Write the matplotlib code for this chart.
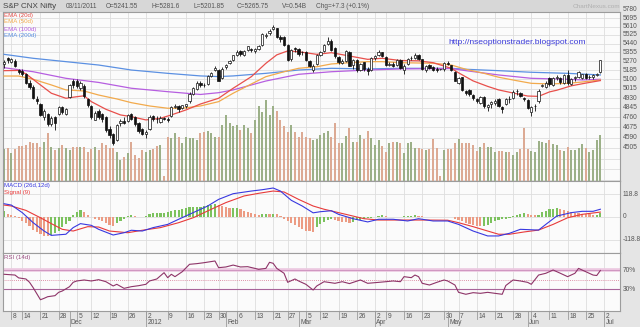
import numpy as np
import matplotlib
matplotlib.use('Agg')
import matplotlib.pyplot as plt
from matplotlib.patches import Rectangle
from matplotlib.lines import Line2D
from matplotlib.ticker import NullLocator
from matplotlib.transforms import blended_transform_factory as blend

plt.rcParams['font.family'] = ['Liberation Sans', 'DejaVu Sans']

# ---------------- data ----------------
# one entry per trading day, 03 Nov 2011 .. 29 Jun 2012
opens = [5241.55, 5300, 5262, 5270, 5185, 5175, 5150, 5070, 5030, 4920,
         4880, 4760, 4790, 4700, 4760, 4790, 4850, 4790, 4936, 5080,
         5080, 5020, 5040, 4920, 4860, 4740, 4815, 4790, 4760, 4665,
         4620, 4570, 4710, 4730, 4730, 4790, 4760, 4715, 4660, 4620,
         4660, 4775, 4750, 4720, 4754,
         4750, 4770, 4855, 4860, 4840, 4860, 4900, 4970, 5010, 5070,
         5050, 5060, 5130, 5190, 5190, 5110, 5210, 5250, 5280, 5330,
         5370, 5330, 5380, 5390, 5370, 5390, 5430, 5510, 5540, 5580,
         5590, 5500, 5500, 5430, 5290, 5400, 5390, 5360, 5360, 5270,
         5190, 5240, 5330, 5370, 5440, 5470, 5400, 5310, 5250, 5270,
         5360, 5230, 5280, 5190, 5260, 5200, 5190, 5300, 5330, 5355,
         5310, 5230, 5240, 5230, 5280, 5190, 5240, 5300, 5300, 5330,
         5290, 5190, 5230, 5210, 5200, 5195,
         5195, 5250, 5230, 5170, 5070, 5120, 4990, 5000, 4960, 4920,
         4890, 4940, 4850, 4880, 4890, 4920, 4850, 4880, 4925, 4930,
         4990, 4975, 4930, 4915, 4810, 4860, 4900, 5040, 5030, 5110,
         5050, 5110, 5110, 5070, 5140, 5060, 5110, 5120, 5110, 5150,
         5120, 5120, 5140, 5170]
highs = [5281.6, 5310, 5300, 5290, 5200, 5200, 5160, 5090, 5050, 4950,
         4890, 4830, 4800, 4770, 4770, 4860, 4860, 4840, 5060, 5100,
         5100, 5080, 5060, 4930, 4870, 4820, 4830, 4800, 4770, 4690,
         4630, 4700, 4750, 4760, 4790, 4800, 4770, 4720, 4670, 4650,
         4780, 4780, 4770, 4770, 4760,
         4760, 4860, 4880, 4870, 4870, 4880, 4980, 5030, 5080, 5080,
         5070, 5140, 5170, 5220, 5200, 5210, 5240, 5280, 5330, 5380,
         5380, 5380, 5420, 5400, 5400, 5430, 5540, 5540, 5580, 5630,
         5600, 5520, 5510, 5440, 5390, 5410, 5395, 5370, 5370, 5280,
         5240, 5340, 5370, 5440, 5500, 5480, 5410, 5320, 5290, 5380,
         5370, 5290, 5290, 5250, 5265, 5210, 5305, 5330, 5380, 5360,
         5315, 5260, 5260, 5290, 5290, 5240, 5300, 5320, 5345, 5335,
         5295, 5230, 5240, 5220, 5210, 5200,
         5260, 5270, 5235, 5175, 5120, 5125, 5000, 5010, 4970, 4930,
         4950, 4945, 4880, 4900, 4920, 4930, 4860, 4930, 4950, 5000,
         5010, 4985, 4940, 4920, 4860, 4880, 5010, 5060, 5080, 5120,
         5125, 5135, 5120, 5145, 5190, 5110, 5130, 5175, 5150, 5160,
         5135, 5150, 5160, 5285]
lows = [5201.85, 5250, 5250, 5210, 5150, 5130, 5060, 5010, 4920, 4880,
        4770, 4740, 4690, 4690, 4650, 4780, 4790, 4780, 4930, 5020,
        5020, 5000, 4930, 4850, 4750, 4740, 4750, 4720, 4640, 4590,
        4531, 4560, 4690, 4700, 4720, 4740, 4690, 4630, 4610, 4590,
        4650, 4730, 4710, 4710, 4740,
        4720, 4760, 4840, 4810, 4830, 4840, 4890, 4960, 5000, 5030,
        5030, 5050, 5120, 5180, 5080, 5100, 5200, 5240, 5270, 5320,
        5320, 5320, 5370, 5360, 5350, 5380, 5420, 5490, 5520, 5570,
        5490, 5460, 5420, 5270, 5270, 5360, 5320, 5330, 5270, 5210,
        5170, 5230, 5320, 5360, 5430, 5370, 5300, 5240, 5240, 5260,
        5220, 5200, 5170, 5180, 5180, 5140, 5180, 5280, 5320, 5310,
        5225, 5220, 5215, 5220, 5200, 5150, 5230, 5280, 5290, 5280,
        5190, 5170, 5195, 5180, 5170, 5185,
        5180, 5230, 5180, 5080, 5060, 4990, 4960, 4950, 4910, 4890,
        4880, 4840, 4820, 4840, 4870, 4850, 4800, 4870, 4890, 4920,
        4960, 4940, 4900, 4830, 4770, 4820, 4890, 5030, 5020, 5040,
        5040, 5090, 5060, 5060, 5050, 5050, 5080, 5110, 5100, 5100,
        5100, 5100, 5130, 5160]
closes = [5265.75, 5284, 5289, 5221, 5168, 5148, 5068, 5030, 4934, 4906,
          4778, 4812, 4706, 4756, 4710, 4851, 4805, 4832, 5051, 5050,
          5039, 5063, 4944, 4867, 4764, 4800, 4764, 4746, 4651, 4613,
          4544, 4693, 4733, 4714, 4779, 4750, 4705, 4646, 4624, 4636,
          4765, 4749, 4749, 4754, 4747,
          4742, 4849, 4860, 4831, 4866, 4873, 4967, 5018, 5064, 5048,
          5046, 5127, 5158, 5204, 5087, 5199, 5235, 5269, 5325, 5361,
          5335, 5368, 5412, 5381, 5390, 5416, 5531, 5521, 5564, 5607,
          5505, 5483, 5429, 5281, 5375, 5385, 5339, 5359, 5280, 5222,
          5220, 5333, 5359, 5429, 5465, 5380, 5317, 5257, 5274, 5364,
          5228, 5278, 5184, 5243, 5194, 5178, 5296, 5317, 5358, 5322,
          5234, 5243, 5226, 5276, 5207, 5226, 5289, 5300, 5332, 5290,
          5200, 5222, 5202, 5189, 5190, 5192,
          5248, 5239, 5188, 5087, 5114, 4999, 4974, 4965, 4928, 4907,
          4942, 4858, 4870, 4891, 4906, 4860, 4835, 4921, 4920, 4985,
          4990, 4951, 4924, 4841, 4848, 4863, 4997, 5049, 5068, 5054,
          5115, 5121, 5072, 5139, 5064, 5103, 5120, 5165, 5146, 5114,
          5121, 5141, 5149, 5279]
volumes = [.54, .56, .47, .54, .60, .60, .62, .67, .64, .64,
           .58, .67, .81, .58, .53, .56, .61, .56, .53, .58,
           .58, .58, .58, .50, .54, .58, .53, .64, .61, .56,
           .56, .50, .36, .41, .47, .67, .44, .39, .53, .50,
           .53, .55, .60, .62, .09, .75, .73, .81, .75, .64,
           .75, .74, .73, .70, .81, .84, .86, .81, .75, .75,
           .95, 1.12, .98, .93, .95, .87, .95, .90, .81, 1.04,
           1.27, 1.18, 1.38, 1.12, 1.27, 1.20, 1.04, .93, .84, .95,
           .84, .75, .84, .75, .73, .70, .72,
           .78, .82, .86, .75, .99, .65, .65, .77, .91, .67,
           .67, .78, .71, .86, .73, .61, .70, .60, .50, .64,
           .67, .67, .64, .47, .64, .67, .57, .56, .55, .53,
           .54, .71, .56, .09, .53, .54, .54, .64, .71, .65,
           .64, .64, .61, .51, .58, .64, .58, .58, .49, .51,
           .51, .50, .50, .44, .50, .54, .90, .54, .51, .50,
           .68, .66, .64, .70, .63, .61, .53, .51, .58, .53,
           .53, .56, .63, .56, .49, .53, .70, .78]

# moving averages (sampled day index, value)
ema20_x = [0, 4, 6, 10, 13, 17, 20, 22, 24, 28, 32, 35, 39, 43, 46, 50, 54, 59, 63, 68,
           72, 75, 78, 81, 86, 90, 95, 100, 104, 109, 114, 118, 123, 125, 129, 133, 136,
           140, 144, 147, 150, 152, 156, 160, 164]
ema20_y = [5180, 5182, 5150, 5048, 4973, 4928, 4942, 4950, 4898, 4831, 4782, 4767, 4739,
           4753, 4782, 4825, 4877, 4928, 5018, 5124, 5249, 5330, 5368, 5360, 5335, 5351,
           5319, 5287, 5297, 5276, 5273, 5255, 5202, 5160, 5085, 5035, 5003, 4975, 4948,
           4945, 4985, 5000, 5040, 5065, 5088]
ema50_x = [0, 4, 8, 13, 17, 22, 26, 31, 35, 40, 45, 49, 54, 59, 63, 68, 72, 77, 81, 86,
           90, 95, 100, 104, 109, 118, 123, 127, 132, 136, 141, 145, 150, 155, 159, 164]
ema50_y = [5130, 5130, 5100, 5048, 5003, 4993, 4957, 4922, 4889, 4860, 4840, 4840, 4860,
           4898, 4973, 5057, 5124, 5170, 5202, 5217, 5243, 5255, 5265, 5265, 5255, 5250,
           5233, 5193, 5155, 5119, 5087, 5063, 5057, 5063, 5075, 5094]
ema100_x = [0, 8, 17, 26, 35, 45, 54, 59, 63, 72, 81, 90, 100, 109, 123, 127, 136, 145,
            155, 159, 164]
ema100_y = [5208, 5170, 5109, 5071, 5018, 4987, 4962, 4978, 5003, 5084, 5146, 5170, 5186,
            5196, 5200, 5180, 5140, 5109, 5100, 5094, 5100]
ema200_x = [0, 8, 17, 26, 35, 45, 54, 59, 63, 72, 81, 90, 100, 109, 123, 127, 136, 145,
            155, 164]
ema200_y = [5335, 5297, 5265, 5233, 5186, 5155, 5131, 5125, 5131, 5155, 5186, 5202, 5196,
            5202, 5202, 5193, 5180, 5165, 5155, 5140]

macd_x = [0, 2, 5, 8, 11, 13, 17, 19, 21, 24, 26, 30, 33, 35, 38, 41, 45, 48, 52, 56,
          59, 63, 68, 71, 74, 76, 79, 82, 85, 87, 90, 92, 96, 100, 103, 107, 111, 114,
          118, 122, 125, 129, 133, 136, 139, 142, 147, 149, 152, 156, 159, 162, 164]
macd_y = [70, 63, 23, -30, -74, -97, -91, -56, -35, -44, -65, -95, -83, -70, -74, -56,
          -39, -12, 23, 58, 93, 123, 137, 144, 153, 137, 88, 58, 22, 28, 33, 14, -9, -26,
          -12, -12, -21, -9, -21, -21, -39, -74, -100, -100, -86, -65, -69, -39, 5, 23,
          30, 30, 41]
signal_x = [0, 2, 6, 10, 13, 16, 19, 23, 26, 29, 34, 38, 43, 48, 52, 57, 61, 66, 70, 74,
            77, 81, 85, 88, 90, 94, 99, 103, 110, 116, 122, 125, 129, 133, 136, 139, 143,
            147, 151, 155, 159, 164]
signal_y = [63, 58, 35, -4, -35, -65, -74, -51, -53, -74, -83, -70, -56, -30, -4, 41, 76,
            111, 125, 137, 132, 93, 58, 41, 32, 14, -9, -16, -16, -16, -17, -30, -51, -74,
            -91, -91, -79, -69, -39, -4, 14, 26]
macd_hist = [30, 18, 12, 7, -5, -19, -32, -49, -67, -79,
             -90, -99, -102, -97, -84, -72, -55, -37, -19, 12,
             26, 39, 26, 12, 2, -9, -16, -23, -32, -40,
             -48, -33, -19, -9, 5, 9, 5, 2, 0, 5,
             16, 19, 21, 21, 22, 25, 32, 37, 39, 42,
             48, 51, 53, 55, 55, 56, 62, 65, 69, 62,
             58, 53, 48, 48, 48, 44, 33, 26, 21, 18,
             12, 16, 18, 14, 18, 16, 5, -9, -19, -32,
             -44, -55, -63, -72, -76, -79, -55,
             -35, -25, -18, -10, -14, -21, -26, -28, -30, -24,
             -18, -14, -10, -7, -3, 2, 5, 9, 5, 2,
             0, -2, 2, 4, 5, 7, 9, 5, 3, 2,
             1, 2, 1, 0, 2, 1, -2, -9, -16, -23,
             -30, -37, -42, -46, -48, -46, -40, -32, -23, -16,
             -12, -9, -7, 5, 12, 18, 21, 16, 12, 9,
             12, 26, 33, 40, 44, 46, 44, 37, 30, 26,
             23, 21, 18, 16, 14, 12, 12, 21]

rsi_x = [0, 3, 4, 6, 7, 8, 10, 11, 12, 14, 15, 16, 18, 19, 20, 22, 24, 26, 28, 30, 31,
         33, 35, 37, 39, 40, 42, 44, 45, 46, 47, 49, 51, 53, 55, 58, 59, 61, 63, 65, 67,
         69, 70, 72, 73, 74, 75, 77, 78, 80, 81, 83, 85, 86, 88, 91, 93, 95, 96, 98, 100,
         103, 105, 107, 109, 110, 112, 113, 114, 115, 117, 119, 121, 122, 124, 125, 127,
         129, 131, 133, 135, 137, 138, 140, 142, 144, 145, 147, 149, 151, 153, 155, 157,
         158, 160, 162, 163, 164]
rsi_y = [61.6, 60, 54, 51.7, 44.7, 33.4, 8, 11, 14.4, 16.6, 23.6, 26.4, 35.5, 44.7, 47.5,
         49.6, 47.5, 50.3, 46, 37, 40.5, 32, 35.5, 37.6, 40.5, 47.5, 51.7, 65, 54.4, 61.6,
         56.6, 67, 82.6, 84, 86, 89.6, 75.5, 77, 81, 77, 77.6, 74, 72, 74, 86.8, 84.7, 74,
         63.7, 44.7, 51.7, 47.5, 40.5, 28.5, 37, 46, 42.6, 46, 42, 44.6, 49.6, 42.6, 44.6,
         46, 47.5, 46, 56.6, 54.5, 60, 56.6, 42.6, 39, 44.6, 49.6, 47.5, 39, 23.6, 19.5,
         22.9, 21.5, 23.6, 21.5, 19.5, 38, 49.6, 47.5, 44.6, 40.5, 60, 63.7, 70.6, 63.7,
         56.6, 63.7, 74, 67, 60, 59, 69.6]

price_ticks = [4505, 4590, 4675, 4760, 4845, 4930, 5015, 5100, 5185, 5270, 5355, 5440,
               5525, 5610, 5695, 5780]
price_grid_extra = [4250, 4335, 4420]
macd_ticks = [118.8, 0, -118.8]
macd_tick_labels = ['118.8', '0', '-118.8']
rsi_ticks = [70, 30]
rsi_tick_labels = ['70%', '30%']

day_ticks = [2, 5, 10, 15, 20, 24, 29, 34, 39, 45, 50, 55, 59, 64, 69, 74, 78, 83, 87,
             92, 97, 102, 105, 110, 115, 121, 125, 130, 135, 140, 145, 150, 155, 160, 165]
day_labels = ['8', '14', '21', '28', '5', '12', '19', '26', '2', '9', '16', '23', '30',
              '6', '13', '21', '27', '5', '12', '19', '26', '2', '9', '16', '23', '30', '7',
              '14', '21', '28', '4', '11', '18', '25', '2']
month_ticks = [18, 39, 61, 81, 102, 122, 144, 165]
month_labels = ['Dec', '2012', 'Feb', 'Mar', 'Apr', 'May', 'Jun', 'Jul']

# ---------------- figure ----------------
W, H = 640, 327
fig = plt.figure(figsize=(W / 100, H / 100), dpi=100)
fig.patch.set_facecolor('#e5e5e5')


def box(top, bottom, left=3, right=620):
    return [left / W, 1 - bottom / H, (right - left) / W, (bottom - top) / H]


def fy(py):
    return 1 - py / H


fig.add_artist(Rectangle((0, fy(12)), 620 / W, 12 / H, transform=fig.transFigure,
                         facecolor='#d7d7d7', edgecolor='none', zorder=0))

x = np.arange(len(closes))
o = np.array(opens)
c = np.array(closes)
up = c >= o

ax_v = fig.add_axes(box(12, 181))
ax_p = fig.add_axes(box(12, 181), sharex=ax_v)
ax_m = fig.add_axes(box(181, 253), sharex=ax_v)
ax_r = fig.add_axes(box(253, 311), sharex=ax_v)
ax_p.patch.set_alpha(0)

for a in (ax_v, ax_m, ax_r):
    a.set_facecolor('#fbfbfb')
    for s in a.spines.values():
        s.set_color('#9c9c9c')
        s.set_linewidth(0.8)
    for t in day_ticks:
        a.axvline(t, color='#dedede', lw=0.6, zorder=0)
for s in ax_p.spines.values():
    s.set_visible(False)
for a in (ax_v, ax_p, ax_m, ax_r):
    a.tick_params(which='both', length=0, labelbottom=False, labelleft=False,
                  labelright=False)
ax_v.set_xlim(-0.3, 169.4)

# price panel
ax_p.set_yscale('log')
ax_p.set_ylim(4244, 5759)
ax_p.yaxis.set_major_locator(NullLocator())
ax_p.yaxis.set_minor_locator(NullLocator())

gtr = blend(ax_v.transAxes, ax_p.transData)
for v in price_grid_extra + price_ticks[:-1]:
    ax_v.plot([0, 1], [v, v], transform=gtr, color='#dedede', lw=0.6, zorder=0)

vol_colors = ['#9cb088' if u else '#dcaa94' for u in up]
ax_v.bar(x, volumes, width=0.55, color=vol_colors, zorder=2)
ax_v.set_ylim(0, 2.88)
ax_v.yaxis.set_major_locator(NullLocator())

ax_p.plot(ema200_x, ema200_y, color='#5b90e2', lw=0.9, zorder=2)
ax_p.plot(ema100_x, ema100_y, color='#b65ee0', lw=0.9, zorder=2)
ax_p.plot(ema50_x, ema50_y, color='#f2aa4c', lw=0.9, zorder=2)
ax_p.plot(ema20_x, ema20_y, color='#e8504c', lw=0.9, zorder=2)

ax_p.vlines(x, lows, highs, color='#111111', lw=0.6, zorder=3)
ax_p.bar(x, np.abs(c - o), bottom=np.minimum(o, c), width=0.62,
         color=['white' if u else '#111111' for u in up], edgecolor='#111111',
         lw=0.5, zorder=4)

ptr = blend(ax_p.transAxes, ax_p.transData)
for v in price_ticks:
    ax_p.text(1.004, v, str(v), transform=ptr, fontsize=4.8, color='#555555',
              va='center', ha='left', clip_on=False)

# MACD panel
ax_m.set_ylim(-190, 190)
ax_m.yaxis.set_major_locator(NullLocator())
for v in macd_ticks:
    ax_m.axhline(v, color='#dedede', lw=0.6, zorder=0)
hist_colors = ['#7cc25e' if i == 0 or macd_hist[i] >= macd_hist[i - 1] else '#ec9c84'
               for i in range(len(macd_hist))]
ax_m.bar(x, macd_hist, width=0.6, color=hist_colors, zorder=2)
ax_m.plot(signal_x, signal_y, color='#e83a3a', lw=0.8, zorder=3)
ax_m.plot(macd_x, macd_y, color='#3838e0', lw=0.8, zorder=3)
mtr = blend(ax_m.transAxes, ax_m.transData)
for v, lab in zip(macd_ticks, macd_tick_labels):
    ax_m.text(1.004, v, lab, transform=mtr, fontsize=4.8, color='#555555',
              va='center', ha='left', clip_on=False)

# RSI panel
ax_r.set_ylim(-15.7, 106.4)
ax_r.yaxis.set_major_locator(NullLocator())
ax_r.axhline(70, color='#ecc8e0', lw=2.6, zorder=1)
ax_r.axhline(70, color='#c482b4', lw=0.5, zorder=1)
ax_r.axhline(30, color='#a8649a', lw=0.8, zorder=1)
ax_r.axhline(50, color='#d4708e', lw=0.6, ls=(0, (1, 1.5)), zorder=1)
ax_r.plot(rsi_x, rsi_y, color='#8e3468', lw=0.8, zorder=3)
rtr = blend(ax_r.transAxes, ax_r.transData)
for v, lab in zip(rsi_ticks, rsi_tick_labels):
    ax_r.text(1.004, v, lab, transform=rtr, fontsize=4.8, color='#555555',
              va='center', ha='left', clip_on=False)

# date axis
xtr = blend(ax_r.transData, fig.transFigure)
for t, lab in zip(day_ticks, day_labels):
    fig.add_artist(Line2D([t, t], [fy(311), fy(319)], transform=xtr, color='#9a9a9a',
                          lw=0.6))
    ax_r.text(t + 0.4, fy(316), lab, transform=xtr, fontsize=4.8, color='#555555',
              va='center', ha='left')
for t, lab in zip(month_ticks, month_labels):
    fig.add_artist(Line2D([t, t], [fy(311), fy(327)], transform=xtr, color='#9a9a9a',
                          lw=0.6))
    ax_r.text(t + 0.4, fy(322.5), lab, transform=xtr, fontsize=4.8, color='#555555',
              va='center', ha='left')

# header and legends
fig.text(3 / W, fy(6), 'S&P CNX Nifty', fontsize=5.8, color='#444444', va='center')
header = [(66, '03/11/2011'), (106, 'O=5241.55'), (152, 'H=5281.6'), (194, 'L=5201.85'),
          (237, 'C=5265.75'), (282, 'V=0.54B'), (316, 'Chg=+7.3 (+0.1%)')]
for px, s in header:
    fig.text(px / W, fy(6), s, fontsize=4.7, color='#555555', va='center')
fig.text(620 / W, fy(6), 'ChartNexus.com', fontsize=4.6, color='#b0b0b0', va='center',
         ha='right')

legend = [(15, 'EMA (20d)', '#e8504c'), (22, 'EMA (50d)', '#f2aa4c'),
          (29, 'EMA (100d)', '#b65ee0'), (36, 'EMA (200d)', '#5b90e2')]
for py, s, col in legend:
    fig.text(4 / W, fy(py), s, fontsize=4.4, color=col, va='center')
fig.text(448 / W, fy(43), 'http://nseoptionstrader.blogspot.com', fontsize=6.1,
         color='#3a3ad8', va='center')

fig.text(4 / W, fy(185.5), 'MACD (26d,12d)', fontsize=4.4, color='#3838e0', va='center')
fig.text(4 / W, fy(192.5), 'Signal (9)', fontsize=4.4, color='#e83a3a', va='center')
fig.text(4 / W, fy(257), 'RSI (14d)', fontsize=4.4, color='#9a4a80', va='center')

plt.savefig('out.png', dpi=100, facecolor=fig.get_facecolor())
plt.close()
